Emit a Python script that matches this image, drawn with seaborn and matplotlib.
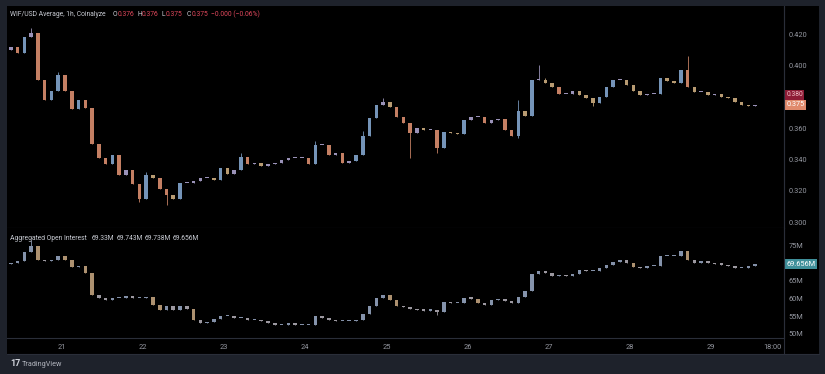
import numpy as np
import matplotlib
matplotlib.use("Agg")
import matplotlib.pyplot as plt
from matplotlib.patches import Rectangle
import seaborn as sns

# 2h candles, WIF/USD, 20th 08:00 -> 29th 12:00 (hours since 20th 00:00)
hours = [9 + 2 * k for k in range(111)]

price_close = [
    0.412, 0.408, 0.418, 0.421, 0.391, 0.378, 0.384, 0.394, 0.384, 0.372,
    0.378, 0.373, 0.350, 0.341, 0.337, 0.343, 0.330, 0.333, 0.324, 0.315,
    0.330, 0.328, 0.321, 0.317, 0.315, 0.325, 0.325, 0.326, 0.328, 0.328,
    0.327, 0.3345, 0.331, 0.333, 0.3415, 0.337, 0.338, 0.336, 0.337, 0.338,
    0.3395, 0.341, 0.341, 0.341, 0.337, 0.349, 0.349, 0.343, 0.344, 0.338,
    0.339, 0.343, 0.355, 0.3665, 0.375, 0.377, 0.3735, 0.367, 0.363, 0.357,
    0.360, 0.359, 0.359, 0.347, 0.3575, 0.357, 0.356, 0.365, 0.367, 0.367,
    0.363, 0.365, 0.366, 0.359, 0.355, 0.371, 0.368, 0.391, 0.391, 0.389,
    0.386, 0.382, 0.382, 0.384, 0.381, 0.379, 0.376, 0.380, 0.386, 0.391,
    0.391, 0.3875, 0.384, 0.381, 0.382, 0.382, 0.392, 0.390, 0.389, 0.397,
    0.386, 0.383, 0.383, 0.381, 0.382, 0.380, 0.379, 0.377, 0.375, 0.374,
    0.375,
]
price_first_open = 0.410
price_high_wicks = {3: 0.424, 7: 0.396, 13: 0.345, 20: 0.332, 34: 0.344, 45: 0.352,
                    52: 0.358, 55: 0.379, 75: 0.378, 78: 0.400, 79: 0.392, 100: 0.406}
price_low_wicks = {19: 0.313, 23: 0.311, 59: 0.341, 63: 0.344, 75: 0.354, 86: 0.374}

oi_close = [
    70.1, 70.6, 73.0, 74.9, 71.0, 70.6, 70.9, 72.0, 70.9, 68.9,
    69.2, 67.2, 60.9, 60.2, 59.6, 60.2, 60.2, 60.7, 60.2, 60.2,
    60.5, 58.3, 56.8, 57.8, 56.8, 57.9, 57.0, 53.9, 53.1, 53.4,
    54.2, 55.1, 55.1, 54.5, 54.5, 54.0, 54.0, 53.7, 53.1, 52.5,
    52.5, 53.1, 52.5, 52.5, 52.5, 55.1, 54.5, 54.0, 53.7, 53.7,
    53.7, 54.0, 55.5, 57.9, 60.2, 60.9, 59.5, 58.0, 57.5, 57.0,
    56.8, 56.6, 56.8, 56.3, 59.1, 58.8, 58.8, 60.2, 60.0, 58.8,
    58.2, 59.5, 60.0, 59.3, 58.8, 60.4, 62.0, 67.0, 67.8, 67.3,
    66.4, 66.7, 66.4, 66.8, 68.0, 67.8, 67.8, 68.6, 69.5, 70.3,
    70.8, 70.1, 68.8, 68.6, 69.2, 69.2, 72.0, 72.0, 72.0, 73.4,
    71.0, 70.1, 70.6, 70.1, 69.8, 69.6, 69.2, 68.6, 68.6, 69.2,
    69.656,
]
oi_first_open = 69.8
oi_high_wicks = {3: 76.5}
oi_low_wicks = {63: 55.3}

day_labels = ["21", "22", "23", "24", "25", "26", "27", "28", "29", "18:00"]
day_hours = [24, 48, 72, 96, 120, 144, 168, 192, 216, 234]
price_ticks = [0.300, 0.320, 0.340, 0.360, 0.400, 0.420]
oi_ticks = [50, 55, 60, 65, 75]

sns.set_theme(style="dark", rc={"axes.facecolor": "#000000", "figure.facecolor": "#1e222b"})
plt.rcParams["font.family"] = ["Roboto", "DejaVu Sans"]

GRID = "#2a2e39"
TXT = "#9598a1"
W, H = 825, 374


def fx(px):
    return px / W


def fy(py):
    return 1 - py / H


def candles(ax, t, first_open, close, hi_w, lo_w, big, up_cols, dn_cols, min_body):
    close = np.array(close)
    opens = np.concatenate([[first_open], close[:-1]])
    highs = np.maximum(opens, close)
    lows = np.minimum(opens, close)
    for k, v in hi_w.items():
        highs[k] = v
    for k, v in lo_w.items():
        lows[k] = v
    diff = close - opens
    cols = []
    for d in diff:
        if d >= 0:
            cols.append(up_cols[0] if d > big else up_cols[1])
        else:
            cols.append(dn_cols[0] if -d > big else dn_cols[1])
    ax.vlines(t, lows, highs, colors=cols, linewidth=0.6, zorder=3)
    ax.bar(t, np.maximum(np.abs(diff), min_body), 1.05, bottom=np.minimum(opens, close),
           color=cols, linewidth=0, zorder=4)


fig = plt.figure(figsize=(8.25, 3.74), dpi=100)
fig.patches.append(Rectangle((fx(7), fy(354)), fx(812), 348 / H, transform=fig.transFigure,
                             facecolor="#000000", edgecolor="none", zorder=-5))

ax_p = fig.add_axes([fx(7), fy(228), fx(777), 222 / H])
ax_o = fig.add_axes([fx(7), fy(338), fx(777), 110 / H], sharex=ax_p)

candles(ax_p, hours, price_first_open, price_close, price_high_wicks, price_low_wicks, 0.004,
        ["#7594b8", "#9a92b8"], ["#c47f63", "#b89b72"], 0.0006)
candles(ax_o, hours, oi_first_open, oi_close, oi_high_wicks, oi_low_wicks, 1.0,
        ["#8593ab", "#8390a8"], ["#ad9170", "#9c98a0"], 0.35)

ax_p.set_xlim(7.86, 237.5)
ax_p.set_ylim(0.2962, 0.438)
ax_o.set_ylim(48.87, 79.9)

for ax in (ax_p, ax_o):
    ax.yaxis.tick_right()
    ax.tick_params(axis="y", length=0, pad=3.5, labelsize=5.3, labelcolor=TXT)
    ax.grid(False)
    for s in ("left", "top"):
        ax.spines[s].set_visible(False)
    for s in ("right", "bottom"):
        ax.spines[s].set_color(GRID)
        ax.spines[s].set_linewidth(0.8)

ax_p.set_yticks(price_ticks)
ax_p.set_yticklabels([f"{v:.3f}" for v in price_ticks])
ax_p.tick_params(axis="x", bottom=False, labelbottom=False)

ax_o.set_yticks(oi_ticks)
ax_o.set_yticklabels([f"{v}M" for v in oi_ticks])
ax_o.set_xticks(day_hours)
ax_o.set_xticklabels(day_labels)
ax_o.tick_params(axis="x", length=0, pad=4, labelsize=5.3, labelcolor=TXT)

# last value tags on the scales (the 0.380 level sits just above the 0.375 tag)
tag = dict(boxstyle="square,pad=0.2", linewidth=0)
ax_p.text(1.003, 0.3812, "0.380", transform=ax_p.get_yaxis_transform(), fontsize=4.8, color="#f0c0c8",
          va="center", ha="left", bbox=dict(tag, facecolor="#8e1c36"), zorder=5, clip_on=False)
ax_p.text(1.003, 0.3748, "0.375", transform=ax_p.get_yaxis_transform(), fontsize=5.2, color="#ffffff",
          va="center", ha="left", bbox=dict(tag, facecolor="#e08a6c"), zorder=6, clip_on=False)
ax_o.text(1.003, 69.656, "69.656M", transform=ax_o.get_yaxis_transform(), fontsize=5.3, color="#ffffff",
          va="center", ha="left", bbox=dict(tag, facecolor="#3f8f9a"), zorder=6, clip_on=False)

# pane and scale separators
fig.add_artist(plt.Line2D([fx(784), fx(784)], [fy(6), fy(354)], color=GRID, linewidth=0.8))
fig.add_artist(plt.Line2D([fx(7), fx(819)], [fy(354), fy(354)], color=GRID, linewidth=0.8))

# legends (header lines)
hdr = dict(fontsize=4.9, va="center", ha="left")
fig.text(fx(10), fy(14), "WIF/USD Average, 1h, Coinalyze", color="#c9ccd4", **hdr)
red = "#e0485c"
for lx, letter, vx, val in [(113, "O", 118, "0.376"), (137, "H", 142, "0.376"),
                            (162, "L", 166, "0.375"), (187, "C", 192, "0.375")]:
    fig.text(fx(lx), fy(14), letter, color="#c9ccd4", **hdr)
    fig.text(fx(vx), fy(14), val, color=red, **hdr)
fig.text(fx(211), fy(14), "\u22120.000 (\u22120.06%)", color=red, **hdr)

fig.text(fx(10), fy(239), "Aggregated Open Interest", color="#c9ccd4", **hdr)
for vx, val in [(92, "69.33M"), (117, "69.743M"), (145, "69.738M"), (173, "69.656M")]:
    fig.text(fx(vx), fy(239), val, color="#c9ccd4", **hdr)

fig.text(fx(10), fy(364), "17", color="#d1d4dc", fontsize=6.5, fontweight="bold", va="center", ha="left")
fig.text(fx(22), fy(364), "TradingView", color="#b2b5be", fontsize=5.2, va="center", ha="left")

fig.savefig("out.png", dpi=100, facecolor=fig.get_facecolor())
